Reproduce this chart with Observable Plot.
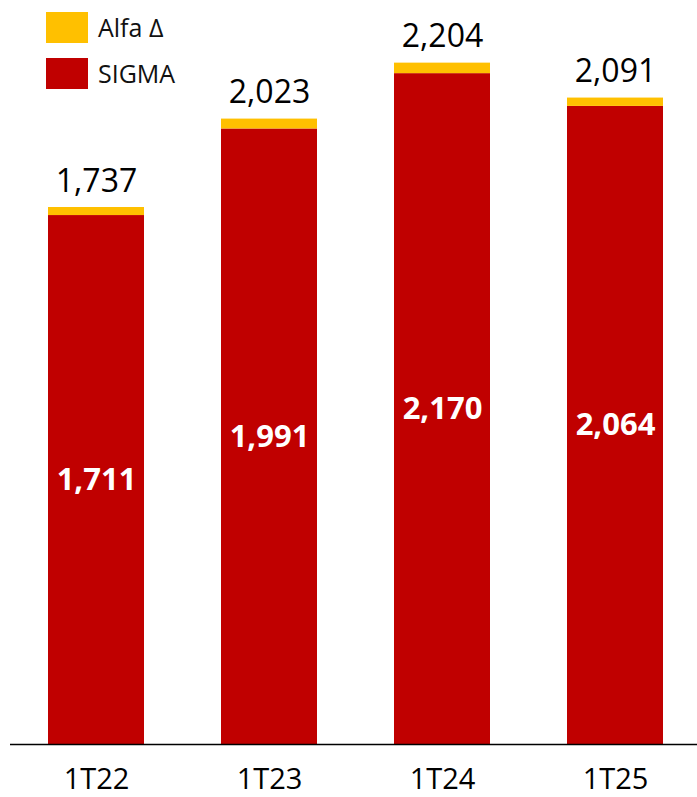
<!DOCTYPE html>
<html>
<head>
<meta charset="utf-8">
<script src="https://cdn.jsdelivr.net/npm/d3@7"></script>
<script src="https://cdn.jsdelivr.net/npm/@observablehq/plot@0.6"></script>
<style>
  body { margin: 0; background: #fff; font-family: "Open Sans", sans-serif; }
  #wrap { position: relative; width: 697px; height: 797px; }
  .leg { position: absolute; left: 46px; display: flex; align-items: center; font-size: 25px; color: #111; }
  .sw { width: 42px; height: 31px; margin-right: 10px; }
</style>
</head>
<body>
<div id="wrap"></div>
<script>
const quarters = ["1T22", "1T23", "1T24", "1T25"];
const sigma = [1711, 1991, 2170, 2064];
const alfa = [26, 32, 34, 27];
const totals = [1737, 2023, 2204, 2091];
const seriesNames = ["SIGMA", "Alfa Δ"];
const colors = ["#C00000", "#FFC000"];

const rows = [];
quarters.forEach((q, i) => {
  rows.push({q, series: "SIGMA", value: sigma[i]});
  rows.push({q, series: "Alfa Δ", value: alfa[i]});
});
const totalRows = quarters.map((q, i) => ({q, total: totals[i]}));
const sigmaRows = quarters.map((q, i) => ({q, value: sigma[i]}));
const fmt = d3.format(",");

const chart = Plot.plot({
  width: 697,
  height: 797,
  marginLeft: 10,
  marginRight: 0,
  marginTop: 0,
  marginBottom: 53,
  style: {fontFamily: "Open Sans, sans-serif", background: "#fff"},
  x: {domain: quarters, range: [10, 702], paddingInner: 0.445, paddingOuter: 0.2225, label: null},
  y: {domain: [0, 2406.6], range: [744, 0], axis: null},
  color: {domain: seriesNames, range: colors},
  marks: [
    Plot.barY(rows, {x: "q", y: "value", fill: "series", order: seriesNames}),
    Plot.ruleY([0], {stroke: "#000", strokeWidth: 1.5}),
    Plot.text(totalRows, {x: "q", y: "total", text: d => fmt(d.total), dy: -26, fontSize: 32, fill: "#000"}),
    Plot.text(sigmaRows, {x: "q", y: d => d.value / 2, text: d => fmt(d.value), fontSize: 31, fontWeight: "bold", fill: "#fff"}),
    Plot.axisX({tickSize: 0, tickPadding: 24, fontSize: 29, fill: "#000", label: null})
  ]
});

const wrap = document.getElementById("wrap");
wrap.appendChild(chart);

const legendItems = [{name: "Alfa Δ", color: colors[1], top: 10}, {name: "SIGMA", color: colors[0], top: 56}];
legendItems.forEach(it => {
  const d = document.createElement("div");
  d.className = "leg";
  d.style.top = it.top + "px";
  const s = document.createElement("div");
  s.className = "sw";
  s.style.background = it.color;
  const t = document.createElement("span");
  t.textContent = it.name;
  d.appendChild(s);
  d.appendChild(t);
  wrap.appendChild(d);
});
</script>
</body>
</html>
